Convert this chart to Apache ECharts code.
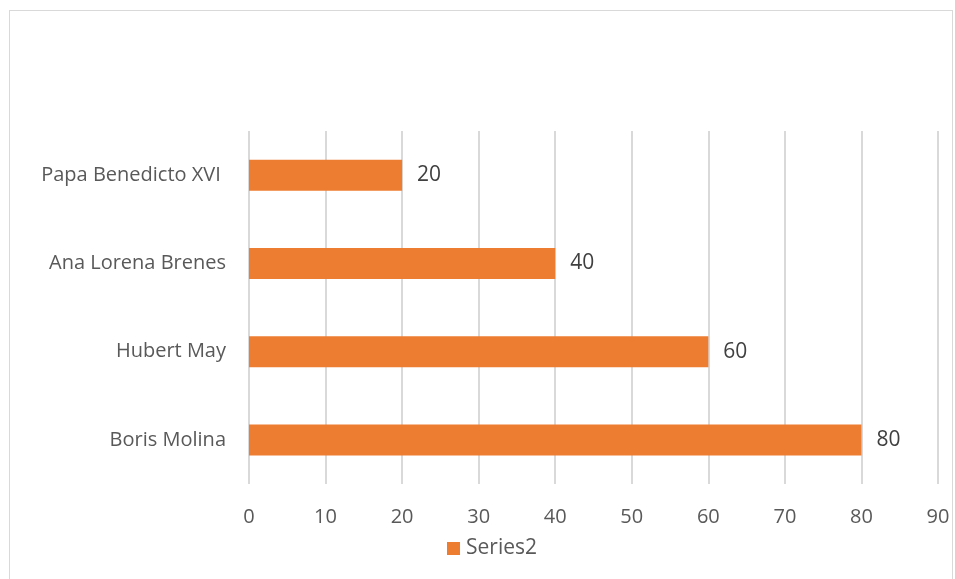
<!DOCTYPE html>
<html><head><meta charset="utf-8">
<script src="https://cdn.jsdelivr.net/npm/echarts@6/dist/echarts.min.js"></script>
<style>
html,body{margin:0;padding:0;background:#fff;}
#frame{position:absolute;left:9px;top:10px;width:944px;height:570px;border:1px solid #D9D9D9;box-sizing:border-box;}
#c{position:absolute;left:0;top:0;width:955px;height:579px;}
</style></head>
<body>
<div id="frame"></div>
<div id="c"></div>
<script>
const categories = ["Boris Molina", "Hubert May", "Ana Lorena Brenes", "Papa Benedicto XVI "];
const series2 = [80, 60, 40, 20];
const seriesName = "Series2";
const font = "'Open Sans', sans-serif";
const chart = echarts.init(document.getElementById('c'));
chart.setOption({
  animation: false,
  textStyle: {fontFamily: font},
  grid: {left: 249, right: 17, top: 131, bottom: 95, containLabel: false},
  legend: {
    data: [seriesName], bottom: 15, left: 442,
    itemWidth: 13, itemHeight: 13, itemGap: 5, icon: 'rect',
    textStyle: {fontSize: 21, color: '#595959', fontFamily: font, padding: [0,0,0,1]}
  },
  xAxis: {
    type: 'value', min: 0, max: 90, interval: 10,
    axisLine: {show: false}, axisTick: {show: false},
    splitLine: {lineStyle: {color: '#D9D9D9', width: 2}},
    axisLabel: {fontSize: 20, color: '#595959', margin: 23, fontFamily: font}
  },
  yAxis: {
    type: 'category', data: categories,
    axisLine: {show: false}, axisTick: {show: false},
    axisLabel: {fontSize: 20, color: '#595959', margin: 23, fontFamily: font, padding: [4,0,0,0]}
  },
  series: [{
    name: seriesName, type: 'bar', data: series2, barWidth: 31,
    itemStyle: {color: '#ED7D31'},
    label: {show: true, position: 'right', distance: 15, fontSize: 21, color: '#404040', fontFamily: font, padding: [4,0,0,0]}
  }]
});
</script>
</body></html>
